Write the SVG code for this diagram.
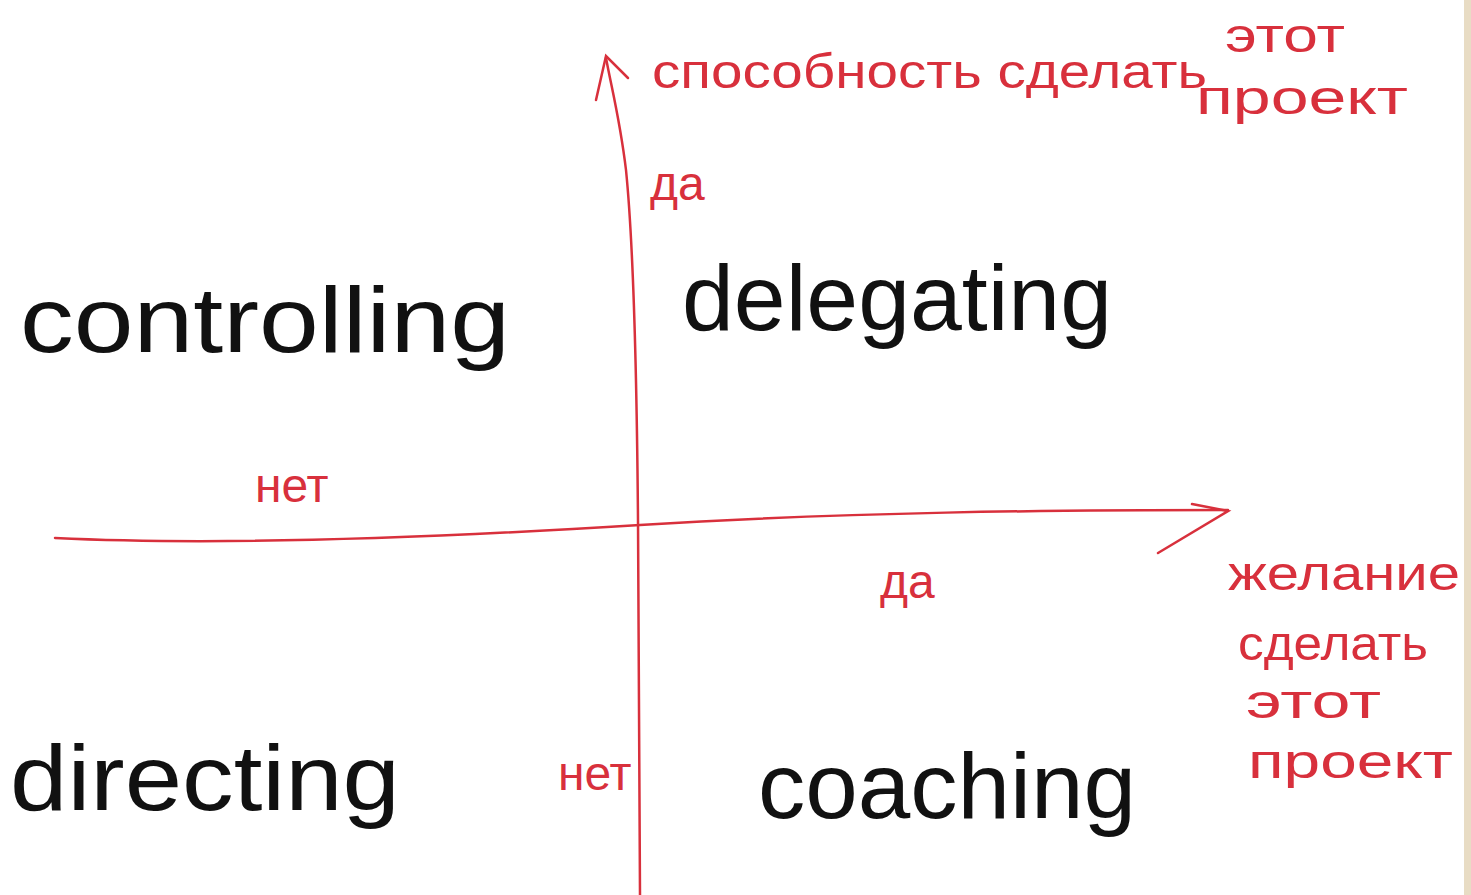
<svg xmlns="http://www.w3.org/2000/svg" width="1471" height="895" viewBox="0 0 1471 895">
<style>
.word{font-family:"Liberation Sans","DejaVu Sans",sans-serif;fill:#111;font-size:92px}
.red{font-family:"Liberation Sans","DejaVu Sans",sans-serif;fill:#d8303c;font-size:48px}
.axis{fill:none;stroke:#d8303c;stroke-width:2.5;stroke-linecap:round}
</style>
<rect width="1471" height="895" fill="#ffffff"/>
<rect x="1464" y="0" width="7" height="895" fill="#e8dcc4"/>
<g id="connectors">
<path class="axis" d="M640,895 C640,700 638,560 638,520 C637,400 634,250 626,170 C620,120 612,90 606,58"/>
<path class="axis" d="M596,100 L606,56 L628,78"/>
<path class="axis" d="M55,538 C200,545 400,540 640,525 C850,512 1050,510 1228,510"/>
<path class="axis" d="M1192,504 L1228,511 L1158,553"/>
</g>
<g id="controlling"><text class="word" x="20" y="352" textLength="490" lengthAdjust="spacingAndGlyphs">controlling</text></g>
<g id="delegating"><text class="word" x="682" y="330" textLength="430" lengthAdjust="spacingAndGlyphs">delegating</text></g>
<g id="directing"><text class="word" x="10" y="810" textLength="390" lengthAdjust="spacingAndGlyphs">directing</text></g>
<g id="coaching"><text class="word" x="758" y="818" textLength="378" lengthAdjust="spacingAndGlyphs">coaching</text></g>
<g id="label-ability">
<text class="red" x="652" y="88" textLength="555" lengthAdjust="spacingAndGlyphs">способность сделать</text>
<text class="red" x="1225" y="52" textLength="120" lengthAdjust="spacingAndGlyphs">этот</text>
<text class="red" x="1196" y="114" textLength="212" lengthAdjust="spacingAndGlyphs">проект</text>
</g>
<g id="label-yes-top"><text class="red" x="650" y="200">да</text></g>
<g id="label-no-left"><text class="red" x="255" y="502">нет</text></g>
<g id="label-yes-right"><text class="red" x="880" y="598">да</text></g>
<g id="label-no-bottom"><text class="red" x="558" y="790" font-size="34">нет</text></g>
<g id="label-desire">
<text class="red" x="1228" y="590" textLength="232" lengthAdjust="spacingAndGlyphs">желание</text>
<text class="red" x="1238" y="660" textLength="190" lengthAdjust="spacingAndGlyphs">сделать</text>
<text class="red" x="1246" y="718" textLength="135" lengthAdjust="spacingAndGlyphs">этот</text>
<text class="red" x="1248" y="778" textLength="205" lengthAdjust="spacingAndGlyphs">проект</text>
</g>
</svg>
